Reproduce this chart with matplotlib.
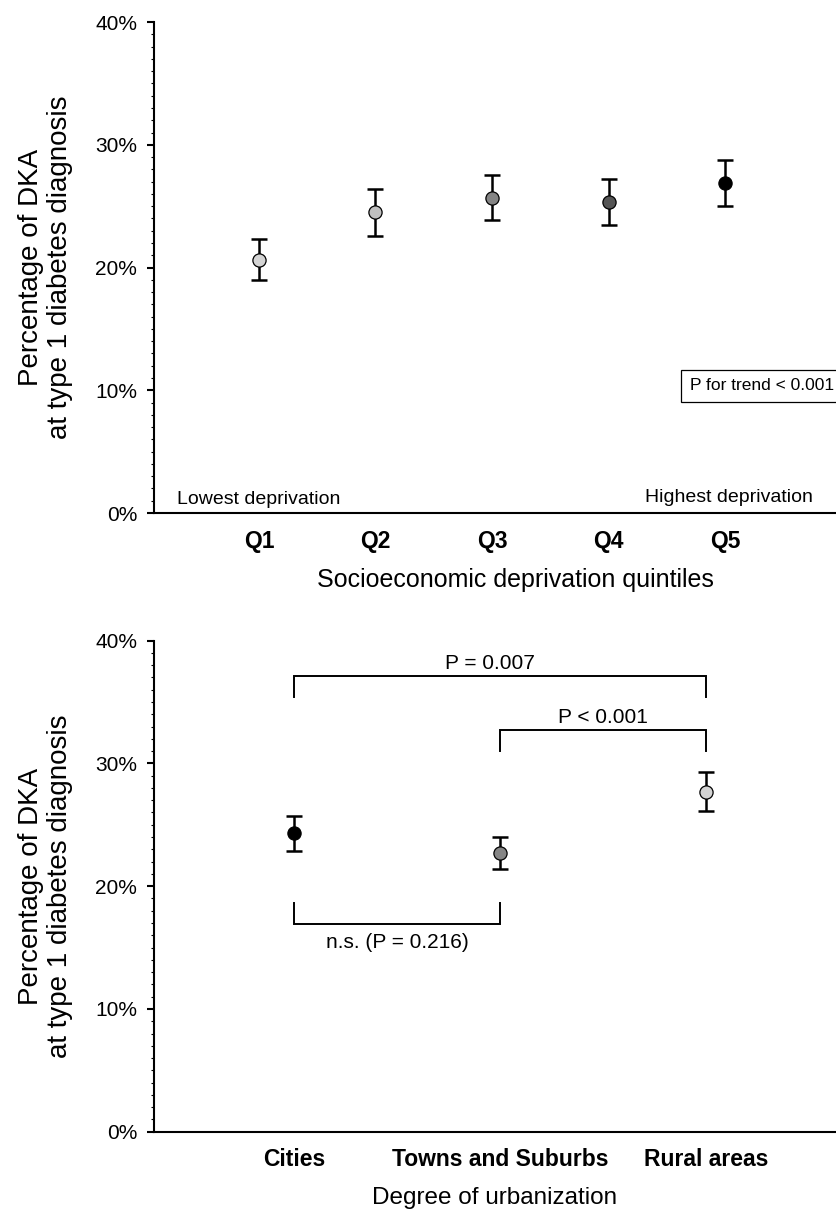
#!/usr/bin/env python3
import numpy as np
import matplotlib
matplotlib.use("Agg")
import matplotlib.pyplot as plt
from matplotlib.ticker import MultipleLocator, FuncFormatter

plt.rcParams['font.family'] = ['Liberation Sans', 'DejaVu Sans']

# panel A: socioeconomic deprivation quintiles
quintiles = ["Q1", "Q2", "Q3", "Q4", "Q5"]
dep_pct = [20.6, 24.5, 25.7, 25.3, 26.9]
dep_lo = [19.0, 22.6, 23.9, 23.5, 25.0]
dep_hi = [22.3, 26.4, 27.5, 27.2, 28.8]
dep_colors = ["#d4d4d4", "#c0c0c0", "#858585", "#555555", "#000000"]

# panel B: degree of urbanization
urban = ["Cities", "Towns and Suburbs", "Rural areas"]
urb_pct = [24.35, 22.7, 27.7]
urb_lo = [22.9, 21.4, 26.1]
urb_hi = [25.7, 24.0, 29.3]
urb_colors = ["#000000", "#858585", "#d4d4d4"]

# pairwise comparisons: (from, to, bracket level, leg end, label)
comparisons = [
    (0, 2, 37.1, 35.4, "P = 0.007"),
    (1, 2, 32.7, 31.0, "P < 0.001"),
    (0, 1, 16.9, 18.6, "n.s. (P = 0.216)"),
]
# where each comparison label sits (x, y)
label_pos = [(1.95, 38.1), (2.5, 33.7), (1.5, 15.4)]

fig = plt.figure(figsize=(8.36, 12.12), dpi=100)
ax1 = fig.add_axes([0.1842, 0.5767, 0.8158, 0.4051])
ax2 = fig.add_axes([0.1842, 0.0662, 0.8158, 0.4053])


def style_axis(ax):
    ax.set_ylim(0, 40)
    ax.spines['top'].set_visible(False)
    ax.spines['right'].set_visible(False)
    ax.spines['left'].set_linewidth(1.5)
    ax.spines['bottom'].set_linewidth(1.5)
    ax.yaxis.set_major_locator(MultipleLocator(10))
    ax.yaxis.set_minor_locator(MultipleLocator(1))
    ax.yaxis.set_major_formatter(FuncFormatter(lambda v, p: f"{v:.0f}%"))
    ax.tick_params(axis='y', which='major', length=5, width=1.5, labelsize=15, pad=7)
    ax.tick_params(axis='y', which='minor', length=2.5, width=0.8)
    ax.tick_params(axis='x', length=0, labelsize=16.5, pad=12)
    for lab in ax.get_xticklabels():
        lab.set_fontweight('bold')
    ax.set_ylabel("Percentage of DKA\nat type 1 diabetes diagnosis",
                  fontsize=20, labelpad=16, linespacing=1.15)


def draw_points(ax, pct, lo, hi, colors):
    x = np.arange(1, len(pct) + 1)
    pct = np.array(pct)
    err = [pct - np.array(lo), np.array(hi) - pct]
    ax.errorbar(x, pct, yerr=err, fmt='none', ecolor='black',
                elinewidth=1.8, capsize=6, capthick=1.8, zorder=2)
    for xi, yi, c in zip(x, pct, colors):
        ax.plot(xi, yi, 'o', markersize=9.5, markerfacecolor=c,
                markeredgecolor='black', markeredgewidth=0.9, zorder=3)


# top panel
draw_points(ax1, dep_pct, dep_lo, dep_hi, dep_colors)
ax1.set_xlim(0.1, 5.95)
ax1.set_xticks(np.arange(1, 6))
ax1.set_xticklabels(quintiles)
style_axis(ax1)
ax1.set_xlabel("Socioeconomic deprivation quintiles", fontsize=18, labelpad=11)
ax1.xaxis.set_label_coords(0.53, -0.112)
ax1.text(0.3, 1.1, "Lowest deprivation", fontsize=14, ha='left', va='center')
ax1.text(5.75, 1.25, "Highest deprivation", fontsize=14, ha='right', va='center')
ax1.text(5.93, 10.35, "P for trend < 0.001", fontsize=12.5, ha='right', va='center',
         bbox=dict(boxstyle='square,pad=0.5', facecolor='white',
                   edgecolor='black', linewidth=0.9))

# bottom panel
draw_points(ax2, urb_pct, urb_lo, urb_hi, urb_colors)
ax2.set_xlim(0.32, 3.63)
ax2.set_xticks(np.arange(1, 4))
ax2.set_xticklabels(urban)
style_axis(ax2)
ax2.set_xlabel("Degree of urbanization", fontsize=17.5, labelpad=11)

for (i, j, level, leg, label), (tx, ty) in zip(comparisons, label_pos):
    x0, x1 = i + 1, j + 1
    ax2.plot([x0, x0, x1, x1], [leg, level, level, leg], color='black',
             linewidth=1.4, solid_joinstyle='miter')
    ax2.text(tx, ty, label, fontsize=15, ha='center', va='center')

fig.savefig("out.png", dpi=100)
